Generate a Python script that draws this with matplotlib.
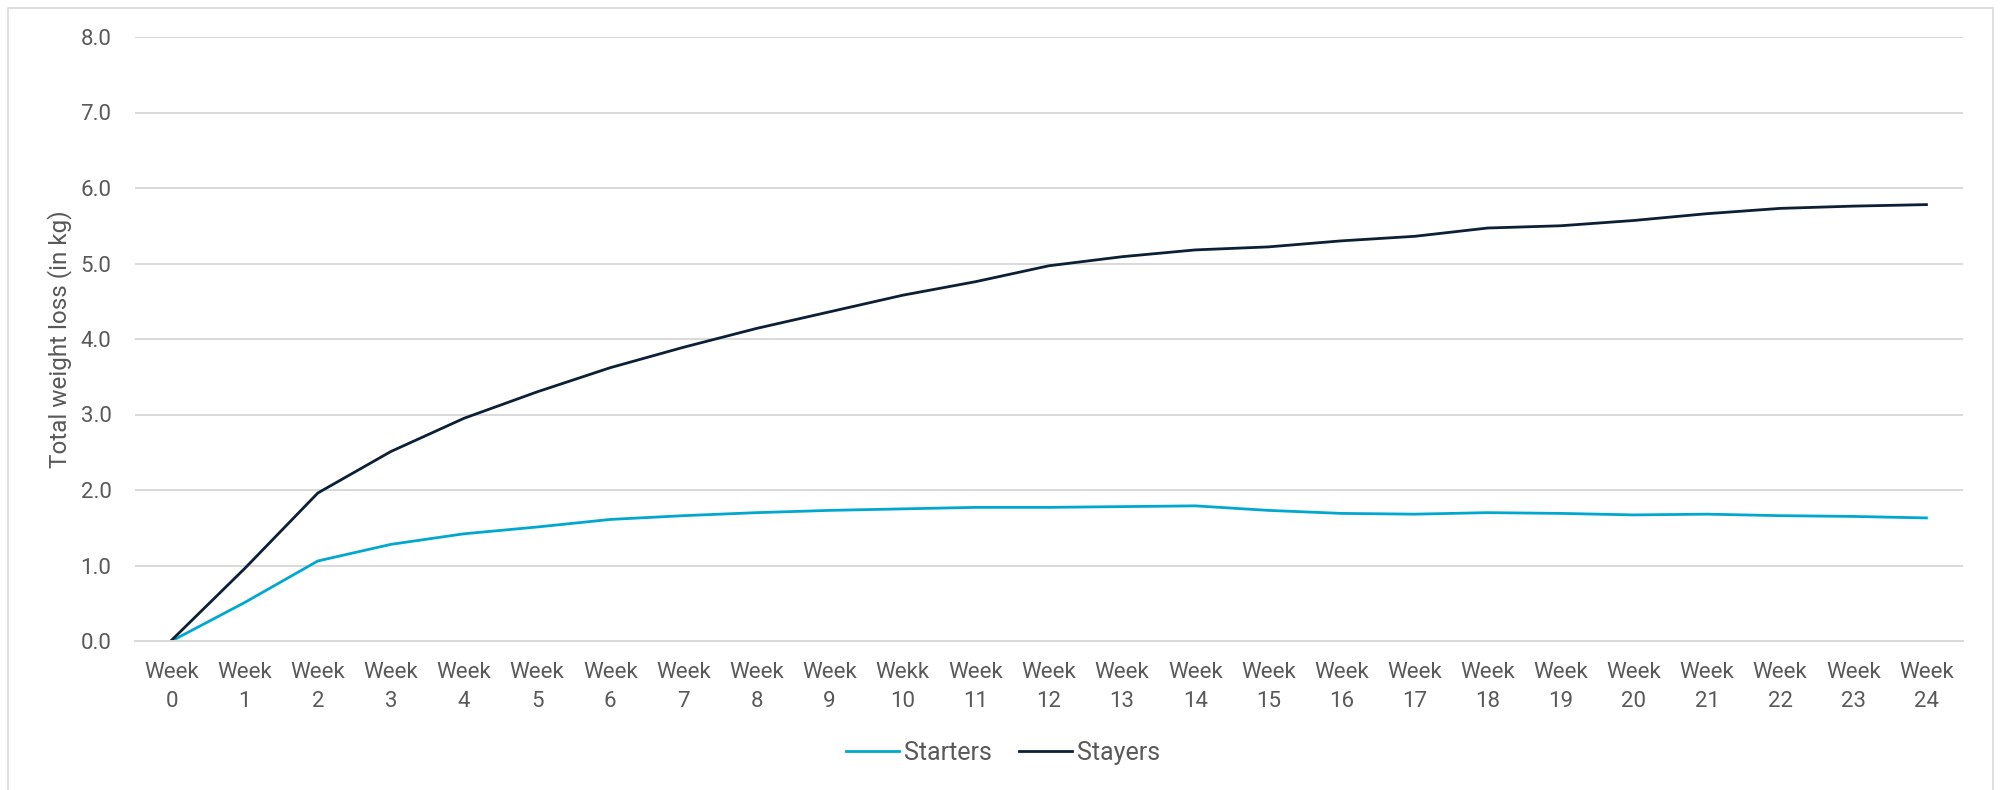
import matplotlib
matplotlib.use("Agg")
import matplotlib.pyplot as plt
from matplotlib.patches import Rectangle

# ==========================================
# DATA
# ==========================================

week_labels = ["Week\n0", "Week\n1", "Week\n2", "Week\n3", "Week\n4", "Week\n5",
               "Week\n6", "Week\n7", "Week\n8", "Week\n9", "Wekk\n10", "Week\n11",
               "Week\n12", "Week\n13", "Week\n14", "Week\n15", "Week\n16", "Week\n17",
               "Week\n18", "Week\n19", "Week\n20", "Week\n21", "Week\n22", "Week\n23",
               "Week\n24"]

starters = [0.0, 0.51, 1.06, 1.28, 1.42, 1.51, 1.61, 1.66, 1.70, 1.73, 1.75, 1.77,
            1.77, 1.78, 1.79, 1.73, 1.69, 1.68, 1.70, 1.69, 1.67, 1.68, 1.66, 1.65, 1.63]

stayers = [0.01, 0.96, 1.96, 2.51, 2.95, 3.30, 3.62, 3.89, 4.14, 4.36, 4.58, 4.76,
           4.97, 5.09, 5.18, 5.22, 5.30, 5.36, 5.47, 5.50, 5.57, 5.66, 5.73, 5.76, 5.78]

y_ticks = [0, 1, 2, 3, 4, 5, 6, 7, 8]

# ==========================================
# STYLE
# ==========================================

plt.rcParams["font.family"] = ["Roboto", "DejaVu Sans"]
text_grey = "#595959"
grid_grey = "#D9D9D9"
cyan = "#00A8D0"
navy = "#0B1F35"
fs = 16

W, H = 2002, 790
fig = plt.figure(figsize=(W / 100, H / 100), dpi=100)
# plot area in pixels: x 135..1963, y 37..641
ax = fig.add_axes([135 / W, 1 - 641 / H, (1963 - 135) / W, (641 - 37) / H])

x = list(range(len(week_labels)))
ax.plot(x, starters, color=cyan, linewidth=2.0, label="Starters")
ax.plot(x, stayers, color=navy, linewidth=2.0, label="Stayers")

ax.set_xlim(-0.5, len(week_labels) - 0.5)
ax.set_ylim(0, 8)
ax.set_yticks(y_ticks)
ax.set_yticklabels([f"{v:.1f}" for v in y_ticks])
ax.set_xticks(x)
ax.set_xticklabels(week_labels, linespacing=1.5)

ax.grid(axis="y", color=grid_grey, linewidth=1.4)
ax.set_axisbelow(True)
for side in ["top", "right", "left"]:
    ax.spines[side].set_visible(False)
ax.spines["bottom"].set_color(grid_grey)
ax.spines["bottom"].set_linewidth(1.4)
ax.tick_params(axis="both", length=0, labelsize=fs, colors=text_grey)
ax.tick_params(axis="x", pad=15)
ax.tick_params(axis="y", pad=17)

ax.set_ylabel("Total weight loss (in kg)", fontsize=17.5, color=text_grey, labelpad=6)

leg = fig.legend(loc="center", bbox_to_anchor=(1003 / W, 1 - 753 / H), ncol=2,
                 frameon=False, fontsize=18, handlelength=2.1, handletextpad=0.2,
                 columnspacing=1.1)
for t in leg.get_texts():
    t.set_color(text_grey)

# thin frame round the chart
fig.add_artist(Rectangle((8 / W, -0.01), (1993 - 8) / W, 1 - 7.5 / H + 0.01,
                         transform=fig.transFigure, fill=False,
                         edgecolor=grid_grey, linewidth=1.2))

fig.savefig("out.png", dpi=100, facecolor="white")
